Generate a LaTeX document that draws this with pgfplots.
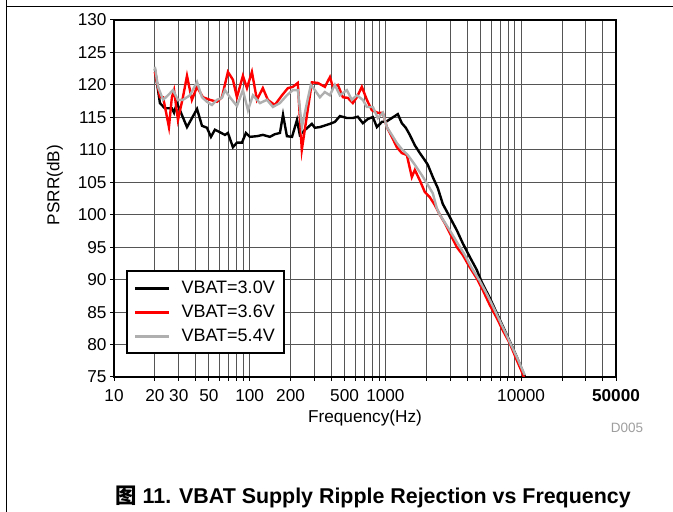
\documentclass[border=0pt]{standalone}
\usepackage{pgfplots}
\pgfplotsset{compat=1.18}
\usepackage{fontspec}
\setmainfont{Liberation Sans}
\newfontfamily\cjk{Noto Sans CJK SC}
\definecolor{vgray}{RGB}{175,175,175}
\definecolor{gridc}{RGB}{85,85,85}
\begin{document}
\begin{tikzpicture}
\path[use as bounding box] (0bp,0bp) rectangle (673bp,512bp);
\draw[line width=1bp] (6.5bp,0bp) -- (6.5bp,512bp);
\draw[line width=1bp] (6.5bp,505.5bp) -- (673bp,505.5bp);
\begin{axis}[
  at={(114bp,135bp)}, anchor=south west,
  scale only axis, width=502bp, height=357bp,
  font=\fontsize{17.2bp}{20bp}\selectfont,
  xmode=log, log basis x=10,
  xmin=10, xmax=50000, ymin=75, ymax=130,
  xtick={10,20,30,40,50,60,70,80,90,100,200,300,400,500,600,700,800,900,1000,2000,3000,4000,5000,6000,7000,8000,9000,10000,20000,30000,40000,50000},
  xticklabels={10,20,30,{},50,{},{},{},{},100,200,{},{},500,{},{},{},{},1000,{},{},{},{},{},{},{},{},10000,{},{},{},{\bfseries 50000}},
  ytick={75,80,85,90,95,100,105,110,115,120,125,130},
  /pgf/number format/assume math mode=true,
  grid=major,
  major grid style={gridc, line width=0.9bp},
  axis line style={line width=2.6bp},
  tick align=outside, tick pos=left, major tick length=4bp,
  tick style={black, line width=1bp},
  xticklabel style={yshift=-5bp},
  xlabel={Frequency(Hz)},
  xlabel style={at={(axis description cs:0.5,-0.115)}, anchor=center},
  ylabel={PSRR(dB)},
  ylabel style={at={(axis description cs:-0.1175,0.538)}, anchor=center},
  legend style={at={(0.024,0.064)}, anchor=south west, draw=black, line width=2bp,
    font=\fontsize{18bp}{21bp}\selectfont, inner xsep=7bp, inner ysep=8bp,
    row sep=6bp, cells={anchor=west}},
  legend image code/.code={\draw[#1, line width=2.6bp] (0bp,0bp) -- (34bp,0bp); \node[draw=none, fill=none, inner sep=0pt, minimum size=0pt] at (43bp,0bp) {};},
]
\addplot[black, line width=2.4bp] coordinates {
(20,122.5)(21.8,117.2)(23.7,116.4)(26.7,116.4)(27.7,115.7)(29.1,117.2)(30.6,116.1)(34.5,113.5)(40.9,116.3)(44.5,113.7)(48.4,113.4)(51.8,112.0)(55.4,113.1)(60.4,112.7)(65.7,112.3)(69.1,112.6)(75.2,110.4)(80.5,111.1)(87.6,111.1)(93.8,112.6)(100.3,112.0)(113,112.1)(125,112.3)(140.8,112.0)(153,112.4)(167,112.6)(176,115.4)(188,112.1)(205,112.0)(223,114.6)(234,112.3)(255,113.05)(287,114.0)(302,113.4)(329,113.5)(390,114.0)(424,114.3)(462,115.2)(520,114.9)(575,114.9)(626,115.1)(682,114.1)(742,114.75)(808,115.05)(865,113.5)(941,114.3)(1024,114.4)(1115,114.9)(1234,115.5)(1321,114.1)(1413,113.4)(1512,112.3)(1647,110.7)(1792,109.5)(1951,108.4)(2052,107.7)(2234,105.8)(2432,104.1)(2647,101.65)(2980,99.65)(3357,97.6)(3715,95.6)(4183,93.5)(4710,91.5)(5128,89.6)(5872,87.2)(6613,84.85)(7320,82.85)(8243,80.5)(9282,78.1)(10630,75.1)
};
\addlegendentry{VBAT=3.0V}
\addplot[red, line width=2.4bp] coordinates {
(20,122.0)(21.8,118.1)(23.0,118.1)(25.4,113.5)(26.7,118.1)(27.7,119.2)(29.6,114.6)(32.2,118.1)(34.5,121.4)(37.5,117.7)(40.9,119.7)(45.2,118.1)(50.9,117.7)(57.4,117.4)(62.4,118.1)(69.1,122.0)(75.2,120.8)(80.5,118.1)(89.1,121.4)(95.4,119.5)(103.8,122.0)(113,117.7)(125,119.5)(136,117.7)(153,116.9)(173,118.4)(191,119.5)(208,119.7)(226,120.3)(242,110.0)(287,120.4)(318,120.3)(358,119.7)(390,121.2)(410,119.7)(446,120.0)(486,118.1)(529,118.0)(575,117.2)(616,118.1)(670,119.7)(730,117.7)(794,116.1)(879,115.7)(957,115.7)(1024,113.5)(1115,112.0)(1213,110.4)(1321,109.5)(1438,109.2)(1565,105.8)(1647,106.9)(1792,105.3)(1951,103.5)(2123,102.7)(2311,101.5)(2516,100.0)(2738,98.7)(2980,97.2)(3357,95.0)(3715,93.8)(4183,91.9)(4710,90.2)(5214,88.4)(5872,86.1)(6613,84.1)(7320,82.2)(8243,80.2)(9282,77.6)(10275,75.5)(10452,75.0)
};
\addlegendentry{VBAT=3.6V}
\addplot[vgray, line width=2.4bp] coordinates {
(20,122.8)(21.1,119.7)(23.0,117.7)(25.0,118.4)(27.2,119.2)(29.6,117.7)(32.2,117.7)(36.3,118.4)(40.9,120.45)(44.5,118.1)(48.4,117.4)(52.7,116.9)(57.4,117.7)(62.4,118.0)(65.7,119.2)(71.5,118.1)(80.5,116.75)(89.1,119.2)(97.0,116.1)(105.6,118.4)(118.9,117.2)(133.9,117.7)(148.2,116.6)(166.9,117.2)(187.9,118.4)(208.1,119.2)(226.4,119.2)(242.3,113.5)(263.8,117.2)(282.3,120.0)(302.1,119.2)(328.8,118.1)(357.9,118.9)(389.5,118.4)(424.1,120.0)(461.6,118.4)(519.8,119.2)(565.7,117.7)(615.9,118.4)(681.7,117.7)(729.5,116.6)(807.6,116.6)(879,114.9)(957,115.7)(1024,113.5)(1115,112.3)(1213,111.05)(1321,110.1)(1462,109.2)(1647,107.7)(1854,106.1)(2052,104.6)(2234,103.3)(2391,101.0)(2516,100.0)(2980,97.6)(3357,95.8)(3843,93.8)(4327,91.8)(4957,89.8)(5580,87.8)(6392,85.3)(7320,82.7)(8243,80.4)(9282,78.1)(10630,75.3)
};
\addlegendentry{VBAT=5.4V}
\end{axis}
\node[text=black!38, font=\fontsize{13.5bp}{15bp}\selectfont] at (627bp,84bp) {D005};
\node[font=\bfseries\fontsize{21.4bp}{24bp}\selectfont] at (373bp,15bp) {{\cjk 图} 11. VBAT Supply Ripple Rejection vs Frequency};
\end{tikzpicture}
\end{document}
